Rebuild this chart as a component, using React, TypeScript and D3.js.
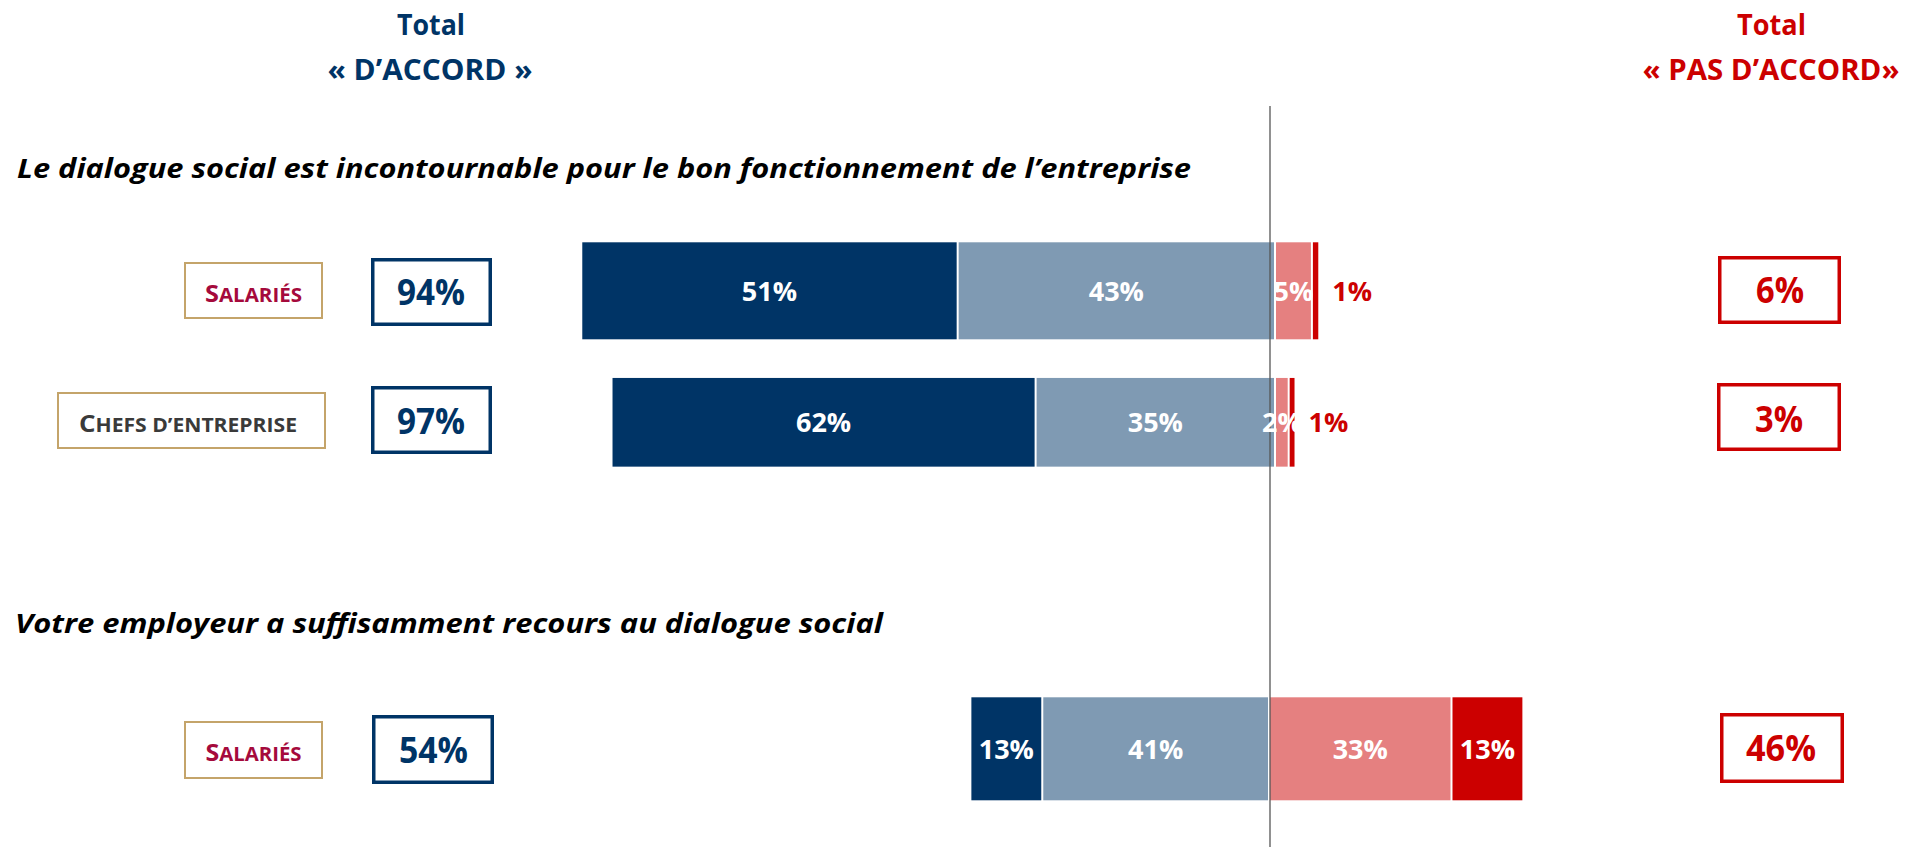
import React from "react";
import * as d3 from "d3";

// ---------- DATA ----------
const groups = ["Salariés", "Chefs d’entreprise", "Salariés"];
const questions = [
  "Le dialogue social est incontournable pour le bon fonctionnement de l’entreprise",
  "Votre employeur a suffisamment recours au dialogue social",
];
const toutAFaitDaccord = [51, 62, 13];
const plutotDaccord = [43, 35, 41];
const plutotPasDaccord = [5, 2, 33];
const pasDuToutDaccord = [1, 1, 13];
const totalDaccord = [94, 97, 54];
const totalPasDaccord = [6, 3, 46];
const headerAgree = ["Total", "« D’ACCORD »"];
const headerDisagree = ["Total", "« PAS D’ACCORD»"];

// ---------- LAYOUT / STYLE ----------
const W = 1906;
const H = 847;
const FONT = "'Open Sans', 'Noto Sans', sans-serif";
const NAVY = "#003466";
const RED = "#CC0000";
const GOLD = "#C4A46A";
const keys = ["plutotDaccord", "toutAFaitDaccord", "plutotPasDaccord", "pasDuToutDaccord"];
const colors: Record<string, string> = {
  toutAFaitDaccord: "#003466",
  plutotDaccord: "#7F9AB3",
  plutotPasDaccord: "#E58080",
  pasDuToutDaccord: "#CC0000",
};
const rowLayout = [
  { cy: 290.8, h: 97, center: 1275, k: 7.38 },
  { cy: 422.3, h: 88.7, center: 1275, k: 6.84 },
  { cy: 748.8, h: 103, center: 1269, k: 5.53 },
];
const groupBoxes = [
  { x: 184, y: 262, w: 139, h: 57, tx: 253.5, ty: 301.7, len: 97, color: "#A50A3C" },
  { x: 57, y: 392, w: 269, h: 57, tx: 188, ty: 431.7, len: 218, color: "#3A3A3A" },
  { x: 184, y: 721, w: 139, h: 58, tx: 253.5, ty: 761, len: 96, color: "#A50A3C" },
];
const agreeBoxes = [
  { x: 371, y: 258, w: 121, h: 68, tx: 431, ty: 305, len: 68 },
  { x: 371, y: 386, w: 121, h: 68, tx: 431, ty: 434, len: 68 },
  { x: 372, y: 715, w: 122, h: 69, tx: 433.5, ty: 763, len: 69 },
];
const disagreeBoxes = [
  { x: 1718, y: 256, w: 123, h: 68, tx: 1780, ty: 303, len: 48 },
  { x: 1717, y: 383, w: 124, h: 68, tx: 1779, ty: 432, len: 48 },
  { x: 1720, y: 713, w: 124, h: 70, tx: 1781, ty: 761, len: 70 },
];
const questionPos = [
  { x: 17, y: 178, len: 1174 },
  { x: 15, y: 633, len: 868 },
];

function SmallCaps({ text, x, y, len, color }: any) {
  const first = text.charAt(0).toUpperCase();
  const rest = text.slice(1).toUpperCase();
  return (
    <text
      x={x}
      y={y}
      textAnchor="middle"
      fontFamily={FONT}
      fontWeight="bold"
      fill={color}
      textLength={len}
      lengthAdjust="spacingAndGlyphs"
    >
      <tspan fontSize={24}>{first}</tspan>
      <tspan fontSize={19.5}>{rest}</tspan>
    </text>
  );
}

export default function App() {
  const rows = groups.map((_, i) => ({
    plutotDaccord: -plutotDaccord[i],
    toutAFaitDaccord: -toutAFaitDaccord[i],
    plutotPasDaccord: plutotPasDaccord[i],
    pasDuToutDaccord: pasDuToutDaccord[i],
  }));
  const stacked = d3
    .stack<any>()
    .keys(keys)
    .offset(d3.stackOffsetDiverging)(rows);

  const scales = rowLayout.map((r) =>
    d3
      .scaleLinear()
      .domain([-100, 100])
      .range([r.center - 100 * r.k, r.center + 100 * r.k])
  );

  const segs: any[] = [];
  stacked.forEach((series) => {
    series.forEach((d: any, i: number) => {
      const x = scales[i];
      const a = x(d[0]);
      const b = x(d[1]);
      const x0 = Math.min(a, b);
      const x1 = Math.max(a, b);
      const value = Math.abs(d[1] - d[0]);
      segs.push({ key: series.key, i, x0, x1, value });
    });
  });

  return (
    <svg
      width={W}
      height={H}
      viewBox={`0 0 ${W} ${H}`}
      style={{ position: "absolute", left: 0, top: 0, display: "block", background: "#fff" }}
    >
      {/* Headers */}
      <text x={431} y={35} textAnchor="middle" fontFamily={FONT} fontWeight="bold" fontSize={29} fill={NAVY} textLength={68} lengthAdjust="spacingAndGlyphs">
        {headerAgree[0]}
      </text>
      <text x={430} y={80} textAnchor="middle" fontFamily={FONT} fontWeight="bold" fontSize={29} fill={NAVY} textLength={205} lengthAdjust="spacingAndGlyphs">
        {headerAgree[1]}
      </text>
      <text x={1771.5} y={35} textAnchor="middle" fontFamily={FONT} fontWeight="bold" fontSize={29} fill={RED} textLength={69} lengthAdjust="spacingAndGlyphs">
        {headerDisagree[0]}
      </text>
      <text x={1771} y={80} textAnchor="middle" fontFamily={FONT} fontWeight="bold" fontSize={29} fill={RED} textLength={257} lengthAdjust="spacingAndGlyphs">
        {headerDisagree[1]}
      </text>

      {/* Questions */}
      {questions.map((q, i) => (
        <text
          key={"q" + i}
          x={questionPos[i].x}
          y={questionPos[i].y}
          fontFamily={FONT}
          fontWeight="bold"
          fontStyle="italic"
          fontSize={26.5}
          fill="#000"
          textLength={questionPos[i].len}
          lengthAdjust="spacingAndGlyphs"
        >
          {q}
        </text>
      ))}

      {/* Group label boxes */}
      {groups.map((g, i) => {
        const b = groupBoxes[i];
        return (
          <g key={"g" + i}>
            <rect x={b.x + 1} y={b.y + 1} width={b.w - 2} height={b.h - 2} fill="#fff" stroke={GOLD} strokeWidth={2} />
            <SmallCaps text={g} x={b.tx} y={b.ty} len={b.len} color={b.color} />
          </g>
        );
      })}

      {/* Total agree boxes */}
      {totalDaccord.map((v, i) => {
        const b = agreeBoxes[i];
        return (
          <g key={"a" + i}>
            <rect x={b.x + 1.75} y={b.y + 1.75} width={b.w - 3.5} height={b.h - 3.5} fill="#fff" stroke={NAVY} strokeWidth={3.5} />
            <text x={b.tx} y={b.ty} textAnchor="middle" fontFamily={FONT} fontWeight="bold" fontSize={36} fill={NAVY} textLength={b.len} lengthAdjust="spacingAndGlyphs">
              {v}%
            </text>
          </g>
        );
      })}

      {/* Total disagree boxes */}
      {totalPasDaccord.map((v, i) => {
        const b = disagreeBoxes[i];
        return (
          <g key={"d" + i}>
            <rect x={b.x + 1.75} y={b.y + 1.75} width={b.w - 3.5} height={b.h - 3.5} fill="#fff" stroke={RED} strokeWidth={3.5} />
            <text x={b.tx} y={b.ty} textAnchor="middle" fontFamily={FONT} fontWeight="bold" fontSize={36} fill={RED} textLength={b.len} lengthAdjust="spacingAndGlyphs">
              {v}%
            </text>
          </g>
        );
      })}

      {/* Bars */}
      {segs.map((s, j) => {
        const r = rowLayout[s.i];
        return (
          <rect
            key={"s" + j}
            x={s.x0 + 1}
            y={r.cy - r.h / 2}
            width={Math.max(0, s.x1 - s.x0 - 2)}
            height={r.h}
            fill={colors[s.key]}
          />
        );
      })}

      {/* Centre line */}
      <line x1={1270} x2={1270} y1={106} y2={H} stroke="#555" strokeWidth={1.3} />

      {/* Segment labels */}
      {segs.map((s, j) => {
        const r = rowLayout[s.i];
        const inside = s.value >= 2;
        return (
          <text
            key={"l" + j}
            x={inside ? (s.x0 + s.x1) / 2 : s.x1 + 13}
            y={r.cy + 10}
            textAnchor={inside ? "middle" : "start"}
            fontFamily={FONT}
            fontWeight="bold"
            fontSize={27}
            fill={inside ? "#fff" : RED}
          >
            {s.value}%
          </text>
        );
      })}
    </svg>
  );
}
